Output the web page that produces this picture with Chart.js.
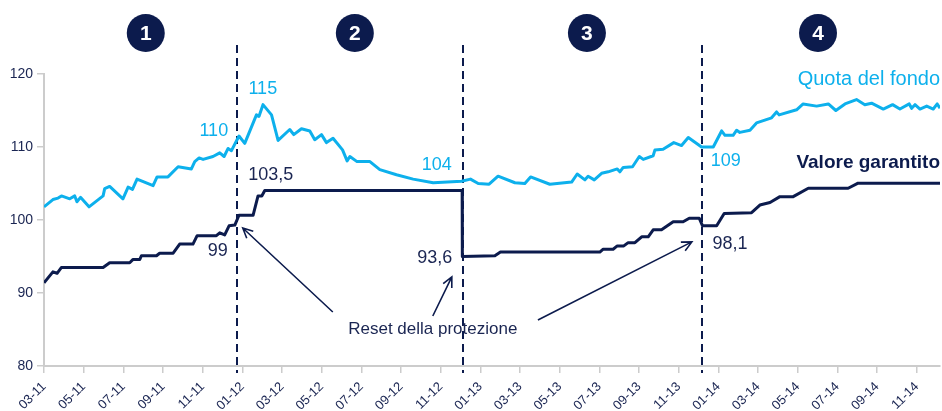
<!DOCTYPE html>
<html>
<head>
<meta charset="utf-8">
<script src="https://cdn.jsdelivr.net/npm/chart.js@4"></script>
<style>
  body { margin: 0; background: #fff; }
  #wrap { width: 942px; height: 411px; }
</style>
</head>
<body>
<div id="wrap"><canvas id="myChart" width="942" height="411"></canvas></div>
<script>
// months counted from 03-11 (0 = March 2011)
const xLabels = ['03-11', '05-11', '07-11', '09-11', '11-11', '01-12', '03-12', '05-12', '07-12', '09-12', '11-12',
  '01-13', '03-13', '05-13', '07-13', '09-13', '11-13', '01-14', '03-14', '05-14', '07-14', '09-14', '11-14'];

const quotaMonths = [0, 0.45, 0.71, 0.88, 1.30, 1.55, 1.66, 1.84, 2.27, 2.98, 3.06, 3.31, 3.98, 4.24, 4.46, 4.69,
  5.50, 5.70, 6.25, 6.76, 7.43, 7.60, 7.82, 8.02, 8.52, 8.86, 9.08, 9.28, 9.45, 9.83, 10.12, 10.71, 10.84, 11.04,
  11.47, 11.80, 12.39, 12.59, 12.98, 13.40, 13.65, 13.99, 14.24, 14.57, 15.05, 15.28, 15.42, 15.78, 16.43, 16.93,
  17.77, 18.61, 19.62, 21.05, 21.50, 21.89, 22.44, 22.89, 23.74, 24.24, 24.53, 25.50, 26.60, 26.88, 27.27, 27.43,
  27.74, 28.11, 28.44, 28.90, 29.03, 29.20, 29.67, 30.01, 30.21, 30.71, 30.80, 31.21, 31.75, 32.14, 32.48, 33.15,
  33.74, 34.16, 34.33, 34.74, 34.92, 35.08, 35.59, 35.92, 36.68, 36.93, 37.06, 37.94, 38.27, 38.95, 39.54, 39.92,
  40.38, 40.96, 41.38, 41.72, 42.31, 42.78, 43.15, 43.62, 43.74, 43.91, 44.16, 44.50, 44.83, 45.03, 45.17];
const quotaValues = [101.8, 102.8, 103.0, 103.3, 102.9, 103.3, 102.5, 103.1, 101.8, 103.3, 104.3, 104.6, 102.9, 104.5, 104.2, 105.6,
  104.7, 105.9, 105.9, 107.3, 107.0, 108.0, 108.5, 108.3, 108.7, 109.2, 108.7, 109.8, 109.5, 111.5, 110.5, 114.4, 114.2, 115.8,
  114.4, 110.9, 112.4, 111.7, 112.5, 112.2, 111.0, 111.7, 110.6, 111.2, 109.6, 108.1, 108.7, 108.0, 108.0, 106.9,
  106.2, 105.6, 105.1, 105.3, 105.6, 105.0, 104.9, 106.0, 105.1, 105.0, 105.9, 104.9, 105.2, 106.3, 105.5, 106.0,
  105.5, 106.4, 106.6, 107.0, 106.6, 107.2, 107.3, 108.7, 108.3, 108.8, 109.6, 109.7, 110.6, 110.2, 111.3, 110.0,
  110.0, 112.2, 111.6, 111.6, 112.3, 112.0, 112.3, 113.3, 114.0, 114.8, 114.4, 115.1, 115.9, 115.6, 115.9, 115.0,
  115.9, 116.5, 115.8, 116.0, 115.2, 115.8, 115.2, 115.9, 115.3, 115.8, 115.2, 115.6, 115.2, 115.9, 115.3];

const valoreMonths = [0, 0.45, 0.66, 0.88, 2.98, 3.31, 4.32, 4.49, 4.83, 4.91, 5.67, 5.83, 6.51, 6.84, 7.51, 7.72,
  8.69, 8.86, 9.11, 9.33, 9.62, 9.83, 10.54, 10.79, 10.98, 11.13, 21.08, 21.09, 22.73, 23.01, 28.02, 28.19, 28.69,
  28.90, 29.23, 29.45, 29.79, 30.13, 30.46, 30.71, 31.13, 31.72, 32.22, 32.53, 33.03, 33.20, 33.91, 34.29, 35.67,
  36.09, 36.60, 37.10, 37.77, 38.53, 40.54, 41.04, 45.17];
const valoreValues = [91.4, 92.9, 92.7, 93.5, 93.5, 94.15, 94.15, 94.6, 94.6, 95.1, 95.1, 95.45, 95.45, 96.7, 96.7, 97.85,
  97.85, 98.25, 97.95, 99.2, 99.3, 100.65, 100.65, 103.3, 103.3, 104.05, 104.05, 95.0, 95.1, 95.6, 95.6, 96.0, 96.0,
  96.45, 96.45, 96.9, 96.9, 97.7, 97.7, 98.65, 98.65, 99.75, 99.75, 100.25, 100.25, 99.2, 99.2, 100.9, 101.0,
  102.05, 102.4, 103.2, 103.2, 104.35, 104.35, 105.05, 105.05];

const resetMonths = [9.72, 21.1, 33.17];

const cyan = '#0db0ec';
const navy = '#0c1b4d';
const textNavy = '#1a2552';

const labels = [
  { text: '110', m: 8.56, v: 112.2, color: cyan, font: '18px "Liberation Sans"' },
  { text: '115', m: 11.03, v: 117.95, color: cyan, font: '18px "Liberation Sans"' },
  { text: '104', m: 19.8, v: 107.5, color: cyan, font: '18px "Liberation Sans"' },
  { text: '109', m: 34.37, v: 108.1, color: cyan, font: '18px "Liberation Sans"' },
  { text: '103,5', m: 11.43, v: 106.15, color: textNavy, font: '18px "Liberation Sans"' },
  { text: '99', m: 8.76, v: 95.75, color: textNavy, font: '18px "Liberation Sans"' },
  { text: '93,6', m: 19.7, v: 94.8, color: textNavy, font: '18px "Liberation Sans"' },
  { text: '98,1', m: 34.58, v: 96.7, color: textNavy, font: '18px "Liberation Sans"' },
  { text: 'Reset della protezione', m: 19.6, v: 85.05, color: textNavy, font: '17px "Liberation Sans"' }
];

const arrows = [
  { from: [14.56, 87.4], to: [10.02, 98.9] },
  { from: [19.6, 86.85], to: [20.56, 92.2] },
  { from: [24.9, 86.3], to: [32.66, 97.0] }
];

const circles = [5.13, 15.67, 27.37, 39.02];

const overlay = {
  id: 'overlay',
  beforeDatasetsDraw(chart) {
    const { ctx, scales: { x, y } } = chart;
    ctx.save();
    ctx.strokeStyle = navy;
    ctx.lineWidth = 2;
    ctx.setLineDash([8, 5]);
    resetMonths.forEach(m => {
      const px = Math.round(x.getPixelForValue(m));
      ctx.beginPath();
      ctx.moveTo(px, 45);
      ctx.lineTo(px, y.bottom + 7);
      ctx.stroke();
    });
    ctx.restore();
  },
  afterDatasetsDraw(chart) {
    const { ctx, scales: { x, y } } = chart;
    ctx.save();

    // period circles
    circles.forEach((m, i) => {
      const cx = x.getPixelForValue(m);
      ctx.fillStyle = navy;
      ctx.beginPath();
      ctx.arc(cx, 33, 19, 0, Math.PI * 2);
      ctx.fill();
      ctx.fillStyle = '#fff';
      ctx.font = 'bold 21px "Liberation Sans"';
      ctx.textAlign = 'center';
      ctx.textBaseline = 'middle';
      ctx.fillText(String(i + 1), cx, 34);
    });

    // value labels
    ctx.textAlign = 'center';
    ctx.textBaseline = 'middle';
    labels.forEach(l => {
      ctx.fillStyle = l.color;
      ctx.font = l.font;
      ctx.fillText(l.text, x.getPixelForValue(l.m), y.getPixelForValue(l.v));
    });

    // series names
    ctx.textAlign = 'right';
    ctx.fillStyle = cyan;
    ctx.font = '20px "Liberation Sans"';
    ctx.fillText('Quota del fondo', x.right, y.getPixelForValue(119.2));
    ctx.fillStyle = navy;
    ctx.font = 'bold 19px "Liberation Sans"';
    ctx.fillText('Valore garantito', x.right, y.getPixelForValue(107.8));

    // arrows
    ctx.strokeStyle = navy;
    ctx.lineWidth = 1.6;
    arrows.forEach(a => {
      const x1 = x.getPixelForValue(a.from[0]), y1 = y.getPixelForValue(a.from[1]);
      const x2 = x.getPixelForValue(a.to[0]), y2 = y.getPixelForValue(a.to[1]);
      const ang = Math.atan2(y2 - y1, x2 - x1);
      ctx.beginPath();
      ctx.moveTo(x1, y1);
      ctx.lineTo(x2, y2);
      ctx.moveTo(x2 - 11 * Math.cos(ang - 0.45), y2 - 11 * Math.sin(ang - 0.45));
      ctx.lineTo(x2, y2);
      ctx.lineTo(x2 - 11 * Math.cos(ang + 0.45), y2 - 11 * Math.sin(ang + 0.45));
      ctx.stroke();
    });
    ctx.restore();
  }
};

const toPoints = (xs, ys) => xs.map((m, i) => ({ x: m, y: ys[i] }));

new Chart(document.getElementById('myChart'), {
  type: 'line',
  data: {
    datasets: [
      {
        label: 'Quota del fondo',
        data: toPoints(quotaMonths, quotaValues),
        borderColor: cyan,
        borderWidth: 3,
        pointRadius: 0,
        tension: 0,
        borderJoinStyle: 'round'
      },
      {
        label: 'Valore garantito',
        data: toPoints(valoreMonths, valoreValues),
        borderColor: navy,
        borderWidth: 3,
        pointRadius: 0,
        tension: 0,
        borderJoinStyle: 'round'
      }
    ]
  },
  options: {
    responsive: false,
    animation: false,
    layout: { padding: { top: 74, right: 2, left: 0, bottom: 0 } },
    plugins: {
      legend: { display: false },
      tooltip: { enabled: false }
    },
    scales: {
      x: {
        type: 'linear',
        min: 0,
        max: 45.17,
        afterBuildTicks: (scale) => {
          scale.ticks = xLabels.map((l, i) => ({ value: i * 2 }));
        },
        afterFit: (scale) => { scale.height = 45; },
        ticks: {
          autoSkip: false,
          minRotation: 45,
          maxRotation: 45,
          padding: 6,
          color: textNavy,
          font: { family: '"Liberation Sans"', size: 13 },
          callback: (value) => xLabels[Math.round(value / 2)]
        },
        grid: { drawOnChartArea: false, color: '#cccccc', lineWidth: 1.5, tickLength: 7 },
        border: { color: '#cccccc', width: 2 }
      },
      y: {
        min: 80,
        max: 120,
        afterFit: (scale) => { scale.width = 44; },
        ticks: {
          stepSize: 10,
          padding: 4,
          color: textNavy,
          font: { family: '"Liberation Sans"', size: 14 }
        },
        grid: { drawOnChartArea: false, color: '#cccccc', lineWidth: 1.5, tickLength: 7 },
        border: { color: '#cccccc', width: 2 }
      }
    }
  },
  plugins: [overlay]
});
</script>
</body>
</html>
